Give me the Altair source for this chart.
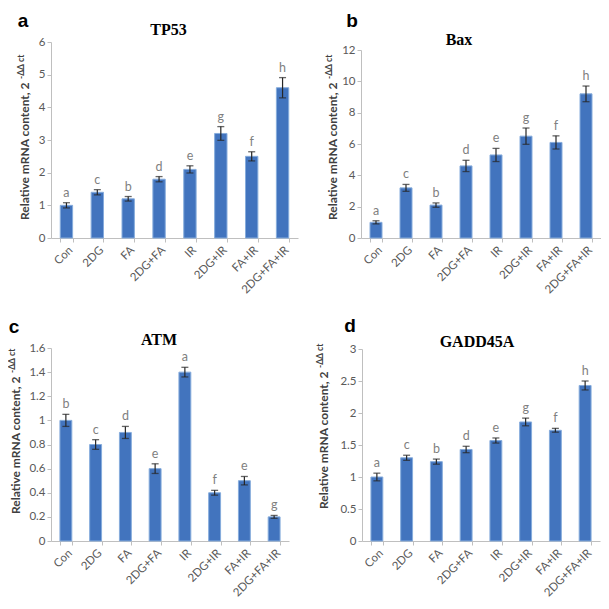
import altair as alt
import pandas as pd

categories = ["Con", "2DG", "FA", "2DG+FA", "IR", "2DG+IR", "FA+IR", "2DG+FA+IR"]

tp53_vals = [1.0, 1.4, 1.2, 1.8, 2.1, 3.2, 2.5, 4.6]
tp53_err = [0.08, 0.08, 0.07, 0.08, 0.11, 0.21, 0.14, 0.31]
tp53_let = ["a", "c", "b", "d", "e", "g", "f", "h"]

bax_vals = [1.0, 3.2, 2.1, 4.6, 5.3, 6.5, 6.1, 9.2]
bax_err = [0.1, 0.22, 0.14, 0.36, 0.42, 0.52, 0.42, 0.5]
bax_let = ["a", "c", "b", "d", "e", "g", "f", "h"]

atm_vals = [1.0, 0.8, 0.9, 0.6, 1.4, 0.4, 0.5, 0.2]
atm_err = [0.05, 0.04, 0.05, 0.04, 0.04, 0.02, 0.035, 0.012]
atm_let = ["b", "c", "d", "e", "a", "f", "e", "g"]

gadd_vals = [1.0, 1.3, 1.24, 1.43, 1.57, 1.86, 1.73, 2.43]
gadd_err = [0.06, 0.04, 0.04, 0.05, 0.04, 0.06, 0.03, 0.07]
gadd_let = ["a", "c", "b", "d", "e", "g", "f", "h"]

YTITLE = "Relative mRNA content, 2"
YSUP = "-ΔΔ ct"
FONT = "Lato"
BAR_FILL = "#4274BE"
BAR_STROKE = "#86ACDC"


def panel(gene, vals, errs, lets, ticks, width, height, top, tag, tag_dx, tag_dy,
          title_dx, title_dy, ytitle_x, ytitle_top):
    # top: pixel offset of the axis top inside the view (for staggered panels)
    df = pd.DataFrame({"cat": categories, "val": vals, "err": errs, "let": lets})
    base = alt.Chart(df).transform_calculate(
        lo="datum.val - datum.err", hi="datum.val + datum.err"
    )
    xscale = alt.Scale(paddingInner=0.6, paddingOuter=0.3)
    xaxis = alt.Axis(labelAngle=-45, tickBand="extent")
    yscale = alt.Scale(domain=[ticks[0], ticks[-1]], range=[height, top], nice=False)
    yaxis = alt.Axis(
        values=ticks, format="~g", grid=False, labelOverlap=False,
        titleAngle=270, titleAlign="right", titleBaseline="middle",
        titleX=ytitle_x, titleY=top + ytitle_top,
    )

    def X():
        return alt.X("cat:N", sort=categories, title=None, scale=xscale, axis=xaxis)

    def Y(field):
        return alt.Y(field, type="quantitative", scale=yscale, title=YTITLE, axis=yaxis)

    bars = base.mark_bar(fill=BAR_FILL, stroke=BAR_STROKE, strokeWidth=1).encode(
        x=X(), y=Y("val")
    )
    rule = base.mark_rule(color="#262626", strokeWidth=1.2).encode(
        x=X(), y=Y("lo"), y2="hi:Q"
    )
    cap_lo = base.mark_tick(color="#262626", size=7, thickness=1.3).encode(x=X(), y=Y("lo"))
    cap_hi = base.mark_tick(color="#262626", size=7, thickness=1.3).encode(x=X(), y=Y("hi"))
    letters = base.mark_text(
        dy=-3, font=FONT, fontSize=12.5, color="#7F7F7F", baseline="bottom"
    ).encode(x=X(), y=Y("hi"), text="let:N")
    small = pd.DataFrame({"t": [0]})
    sup = alt.Chart(small).mark_text(
        font=FONT, fontSize=8.5, fontWeight="bold", color="#404040",
        angle=270, align="left", baseline="middle",
    ).encode(x=alt.value(ytitle_x - 3), y=alt.value(top + ytitle_top - 3), text=alt.value(YSUP))
    tagmark = alt.Chart(small).mark_text(
        font="Liberation Sans", fontSize=19, fontWeight="bold", color="#000000"
    ).encode(x=alt.value(tag_dx), y=alt.value(top + tag_dy), text=alt.value(tag))
    titlemark = alt.Chart(small).mark_text(
        font="Liberation Serif", fontSize=16, fontWeight="bold", color="#000000"
    ).encode(x=alt.value(width / 2 + title_dx), y=alt.value(top + title_dy), text=alt.value(gene))
    return alt.layer(bars, rule, cap_lo, cap_hi, letters, sup, tagmark, titlemark).properties(
        width=width, height=height
    )


pa = panel("TP53", tp53_vals, tp53_err, tp53_let, [0, 1, 2, 3, 4, 5, 6],
           247, 196, 0, "a", -28, -21, -6, -12, -27, 40)
pb = panel("Bax", bax_vals, bax_err, bax_let, [0, 2, 4, 6, 8, 10, 12],
           240, 196, 8, "b", -9, -29, -22, -10, -29, 32)
pc = panel("ATM", atm_vals, atm_err, atm_let, [0, 0.2, 0.4, 0.6, 0.8, 1, 1.2, 1.4, 1.6],
           238, 193, 0, "c", -37, -21, -11, -8, -36, 28)
pd_ = panel("GADD45A", gadd_vals, gadd_err, gadd_let, [0, 0.5, 1, 1.5, 2, 2.5, 3],
            238, 193, 1, "d", -12, -23, -4, -7, -39, 22)

row1 = alt.hconcat(pa, pb, spacing=27)
row2 = alt.hconcat(pc, pd_, spacing=27)

chart = alt.vconcat(row1, row2, spacing=21).properties(
    padding={"top": 4, "left": 0, "right": 0, "bottom": 0}
).configure_view(
    stroke=None
).configure_axis(
    labelFont=FONT,
    labelFontSize=11.5,
    labelColor="#595959",
    labelOverlap=False,
    titleFont=FONT,
    titleFontSize=12,
    titleFontWeight="bold",
    titleColor="#404040",
    domainColor="#BFBFBF",
    tickColor="#BFBFBF",
    tickSize=4,
    labelPadding=2,
).configure_text(font=FONT)

chart.save("out.html", embed_options={"renderer": "svg", "actions": False})
